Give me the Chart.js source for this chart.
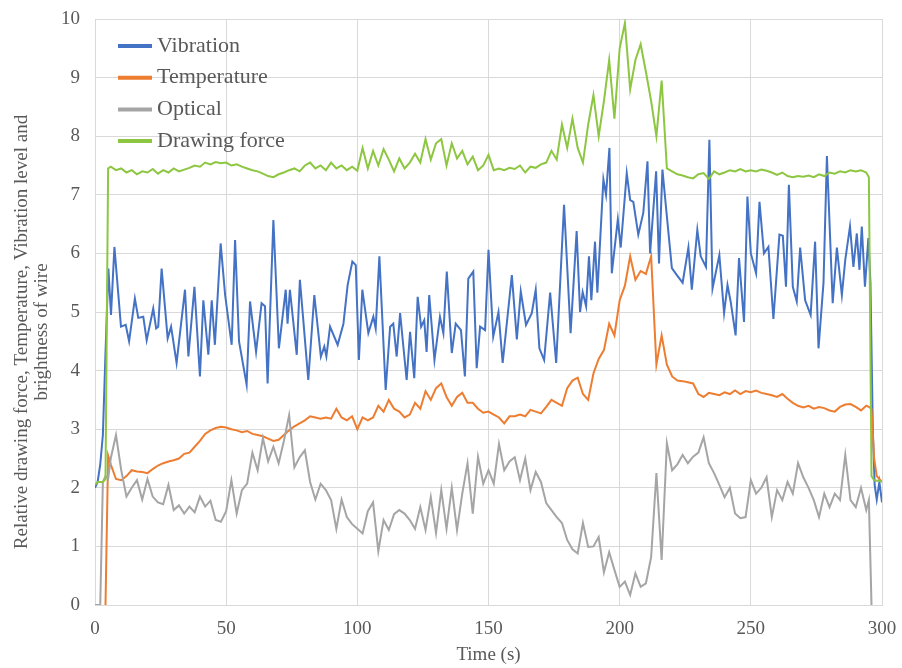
<!DOCTYPE html>
<html>
<head>
<meta charset="utf-8">
<script src="https://cdn.jsdelivr.net/npm/chart.js@4.4.1/dist/chart.umd.min.js"></script>
<style>
  html, body { margin: 0; padding: 0; background: #fff; }
  #wrap { width: 902px; height: 668px; }
</style>
</head>
<body>
<div id="wrap"><canvas id="chart" width="902" height="668"></canvas></div>
<script>
// time axis shared by temperature, optical and drawing force (s)
var time = [
  0, 1, 2, 3, 4, 5, 6,
  8, 10, 12, 14, 16, 18, 20, 22, 24, 26,
  28, 30, 32, 34, 36, 38, 40, 42, 44, 46,
  48, 50, 52, 54, 56, 58, 60, 62, 64, 66,
  68, 70, 72, 74, 76, 78, 80, 82, 84, 86,
  88, 90, 92, 94, 96, 98, 100, 102, 104, 106,
  108, 110, 112, 114, 116, 118, 120, 122, 124, 126,
  128, 130, 132, 134, 136, 138, 140, 142, 144, 146,
  148, 150, 152, 154, 156, 158, 160, 162, 164, 166,
  168, 170, 172, 174, 176, 178, 180, 182, 184, 186,
  188, 190, 192, 194, 196, 198, 200, 202, 204, 206,
  208, 210, 212, 214, 216, 218, 220, 222, 224, 226,
  228, 230, 232, 234, 236, 238, 240, 242, 244, 246,
  248, 250, 252, 254, 256, 258, 260, 262, 264, 266,
  268, 270, 272, 274, 276, 278, 280, 282, 284, 286,
  288, 290, 292, 294,
  295, 296, 297, 298, 299, 300
];

var drawingForce = [
  2.05, 2.1, 2.1, 2.1, 2.15, 7.45, 7.48,
  7.42, 7.45, 7.38, 7.42, 7.35, 7.4, 7.38, 7.44, 7.36, 7.42,
  7.38, 7.45, 7.4, 7.43, 7.46, 7.5, 7.48, 7.55, 7.52, 7.56,
  7.54, 7.55, 7.5, 7.52, 7.48, 7.45, 7.42, 7.4, 7.36, 7.32,
  7.3, 7.35, 7.38, 7.42, 7.45, 7.4, 7.5, 7.55, 7.45, 7.5,
  7.42, 7.55, 7.45, 7.5, 7.42, 7.48, 7.41, 7.8, 7.45, 7.75,
  7.5, 7.78, 7.6, 7.4, 7.62, 7.45, 7.55, 7.7, 7.55, 7.95,
  7.6, 7.88, 7.95, 7.5, 7.88, 7.62, 7.75, 7.52, 7.65, 7.42,
  7.5, 7.68, 7.42, 7.45, 7.42, 7.46, 7.44, 7.5, 7.38, 7.48,
  7.46, 7.52, 7.55, 7.75, 7.6, 8.2, 7.8, 8.3, 7.8, 7.55,
  8.2, 8.7, 8.0, 8.6, 9.3, 8.3, 9.5, 9.93, 8.8, 9.3,
  9.57, 9.1, 8.6, 8.0, 8.95, 7.45, 7.4, 7.35, 7.33, 7.3,
  7.28, 7.35, 7.37, 7.27, 7.4, 7.35, 7.38, 7.42, 7.4, 7.44,
  7.4, 7.42, 7.4, 7.43, 7.41, 7.38, 7.34, 7.38, 7.32, 7.3,
  7.32, 7.31, 7.33, 7.3, 7.35, 7.32, 7.38, 7.36, 7.4, 7.38,
  7.42, 7.4, 7.42, 7.38,
  7.3, 2.2, 2.13, 2.12, 2.12, 2.1
];

var temperature = [
  null, null, null, null, 0, 2.55, 2.4,
  2.15, 2.13, 2.2, 2.3, 2.28, 2.27, 2.25, 2.32, 2.38, 2.42,
  2.45, 2.47, 2.5, 2.58, 2.6, 2.7, 2.8, 2.92, 2.98, 3.02,
  3.04, 3.03, 3.0, 2.98, 2.95, 2.97, 2.92, 2.9, 2.88, 2.84,
  2.8, 2.82, 2.9, 2.98, 3.05, 3.1, 3.15, 3.22, 3.2, 3.18,
  3.2, 3.18, 3.35, 3.2, 3.15, 3.22, 3.0, 3.2, 3.15, 3.2,
  3.4, 3.3, 3.5, 3.35, 3.3, 3.2, 3.25, 3.45, 3.35, 3.65,
  3.5, 3.7, 3.78, 3.55, 3.4, 3.55, 3.62, 3.45, 3.45, 3.35,
  3.28, 3.3, 3.25, 3.2, 3.1, 3.22, 3.22, 3.25, 3.22, 3.33,
  3.3, 3.27, 3.38, 3.5, 3.45, 3.4, 3.7, 3.83, 3.88, 3.6,
  3.5, 3.95, 4.2, 4.35, 4.8, 4.6, 5.2, 5.45, 5.95, 5.55,
  5.7, 5.65, 5.95, 4.1, 4.6, 4.1, 3.9, 3.83, 3.82, 3.8,
  3.78, 3.6, 3.55, 3.62, 3.6, 3.58, 3.63, 3.6, 3.66, 3.6,
  3.65, 3.63, 3.66, 3.62, 3.6, 3.58, 3.55, 3.6, 3.52, 3.45,
  3.4, 3.37, 3.4, 3.35, 3.38, 3.36, 3.32, 3.3, 3.38, 3.42,
  3.43, 3.38, 3.32, 3.4,
  3.38, 3.35, 2.5, 2.2, 2.15, 2.1
];

var optical = [
  0, 0, 0, 2.1, 2.2, 2.15, 2.5,
  2.9, 2.3, 1.85, 2.0, 2.13, 1.8, 2.15, 1.85, 1.75, 1.72,
  2.05, 1.62, 1.7, 1.56, 1.68, 1.58, 1.85, 1.68, 1.78, 1.45,
  1.42, 1.6, 2.13, 1.56, 1.96, 2.07, 2.6, 2.3, 2.85, 2.45,
  2.7, 2.42, 2.8, 3.24, 2.35, 2.52, 2.64, 2.1, 1.8, 2.07,
  1.96, 1.79, 1.3, 1.8, 1.5, 1.38, 1.3, 1.22, 1.6, 1.75,
  0.92, 1.45, 1.28, 1.55, 1.62, 1.56, 1.45, 1.3, 1.67, 1.28,
  1.84, 1.23, 1.96, 1.3, 2.0, 1.28, 1.9, 2.42, 1.56, 2.53,
  2.07, 2.3, 2.07, 2.75, 2.3, 2.45, 2.52, 2.13, 2.5, 1.96,
  2.27, 2.1, 1.74, 1.62, 1.5, 1.4, 1.11, 0.95, 0.88, 1.4,
  0.99, 1.0, 1.16, 0.56, 0.9, 0.6, 0.31, 0.4, 0.17, 0.54,
  0.31, 0.37, 0.82, 2.25, 0.77, 2.76, 2.3, 2.4, 2.56, 2.42,
  2.53, 2.6, 2.86, 2.42, 2.25, 2.05, 1.84, 2.0, 1.56, 1.48,
  1.5, 2.13, 1.9, 2.0, 2.18, 1.5, 1.96, 1.79, 2.1, 1.9,
  2.42, 2.18, 2.0, 1.79, 1.5, 1.9, 1.67, 1.9, 1.79, 2.56,
  1.79, 1.67, 2.0, 1.62,
  1.79, 0, null, null, null, null
];

// vibration has its own (denser, irregular) sampling
var vibTime = [
  0, 1, 2, 3, 4, 5.1, 6.1, 7.4, 9.9, 11.7,
  13, 15.2, 16.5, 18.4, 19.7, 22.2, 23.3, 24.1, 25.4, 27.7,
  29, 31.1, 34.3, 35.6, 37.9, 40, 41.3, 43.2, 44.5, 45.7,
  47.9, 49.6, 52.1, 53.4, 54.9, 57.8, 59.1, 61.4, 63.5, 64.8,
  65.8, 68, 70.1, 72.7, 73.4, 74.3, 76.9, 78.1, 79.4, 81.3,
  83.6, 86.1, 87.4, 88.2, 89.6, 92.5, 94.7, 96.3, 98.1, 99.4,
  100.6, 101.9, 104.2, 106.1, 107, 108.4, 110.8, 112.5, 113.7, 115,
  116.3, 118.8, 120.1, 121.7, 123, 124.3, 125.5, 126.4, 127.4, 129.4,
  131.5, 132.8, 134.1, 136, 137.5, 139.5, 141, 142.3, 144.2, 145.5,
  146.8, 148.7, 150, 151.8, 153.8, 155.4, 158.9, 160.8, 162.3, 164.3,
  166.5, 168, 169.4, 171.2, 173.5, 175.8, 178.8, 181.3, 183.6, 184.9,
  185.9, 187.2, 188.3, 189.2, 190.6, 191.5, 193.8, 194.8, 196.1, 197,
  199.3, 200.4, 202.7, 204, 205.2, 207.1, 209, 210.6, 211.6, 213.9,
  215, 216.3, 218, 219.9, 221.8, 224, 226.2, 227.5, 229.6, 230.9,
  232.9, 234.2, 235.4, 238, 239.8, 241.1, 242.3, 244.2, 245.5, 247.4,
  248.7, 250, 252, 253.3, 255, 256.7, 258.6, 260.9, 262.2, 263.4,
  264.5, 266, 267.5, 268.8, 270.7, 272.8, 274.5, 275.8, 277.7, 279,
  281.2, 282.8, 284.7, 286, 287.8, 289.1, 290.4, 291.4, 292.3, 293.5,
  294.8, 295.6, 296.5, 297.2, 298, 299, 300
];

var vibration = [
  2.0, 2.1, 2.4, 2.9, 4.3, 5.74, 4.95, 6.11, 4.75, 4.78,
  4.5, 5.23, 4.9, 4.92, 4.52, 5.06, 4.72, 4.75, 5.74, 4.55,
  4.75, 4.13, 5.38, 4.24, 5.43, 3.9, 5.2, 4.27, 5.2, 4.44,
  6.17, 5.29, 4.44, 6.23, 4.5, 3.76, 5.18, 4.32, 5.15, 5.1,
  3.78, 6.57, 4.38, 5.38, 4.8, 5.38, 4.27, 5.55, 4.86, 3.84,
  5.29, 4.24, 4.41, 4.24, 4.75, 4.44, 4.8, 5.46, 5.86, 5.8,
  4.18, 5.38, 4.64, 4.92, 4.72, 5.95, 3.67, 4.75, 4.8, 4.24,
  4.98, 3.84, 4.66, 3.87, 5.26, 4.75, 4.86, 4.32, 5.29, 4.18,
  4.92, 4.64, 5.69, 4.3, 4.8, 4.69, 3.9, 5.57, 5.69, 4.04,
  4.75, 4.69, 6.06, 4.58, 5.0, 4.13, 5.63, 4.53, 5.35, 4.78,
  4.98, 5.38, 4.38, 4.18, 5.33, 4.13, 6.83, 4.64, 6.38, 5.0,
  5.34, 5.1, 5.95, 5.2, 6.2, 5.33, 7.26, 7.0, 7.8, 5.66,
  6.58, 6.1, 7.37, 6.91, 6.88, 6.32, 6.69, 7.57, 6.0, 7.4,
  5.83, 7.43, 6.63, 5.75, 5.63, 5.5, 6.1, 5.38, 6.4, 5.95,
  5.77, 7.94, 5.4, 5.97, 4.98, 5.46, 5.18, 4.6, 5.92, 4.83,
  6.97, 6.0, 5.66, 6.88, 6.0, 6.11, 4.88, 6.32, 6.3, 5.43,
  7.17, 5.43, 5.18, 6.1, 5.2, 4.95, 6.2, 4.38, 5.5, 7.66,
  5.15, 6.1, 5.29, 5.89, 6.46, 5.77, 6.34, 5.72, 6.46, 5.43,
  6.26, 5.5, 3.0, 2.05, 1.8, 2.1, 1.75
];

var seriesNames = ['Vibration', 'Temperature', 'Optical', 'Drawing force'];
var seriesColors = ['#4472c4', '#ed7d31', '#a5a5a5', '#8dc641'];
var xTicks = [0, 50, 100, 150, 200, 250, 300];
var yTitle = ['Relative drawing force, Temperature, Vibration level and', 'brightness of wire'];
var xTitle = 'Time (s)';

var serif = "'Liberation Serif', 'Times New Roman', serif";
var textColor = '#595959';
var gridColor = '#d9d9d9';

function toPoints(xs, ys) {
  return xs.map(function (x, i) { return { x: x, y: ys[i] }; });
}

function lineSet(i, xs, ys, order) {
  return {
    label: seriesNames[i],
    data: toPoints(xs, ys),
    borderColor: seriesColors[i],
    backgroundColor: seriesColors[i],
    borderWidth: 2,
    pointRadius: 0,
    tension: 0,
    spanGaps: false,
    order: order
  };
}

// legend drawn inside the plot, top left, with thick line swatches
var insideLegend = {
  id: 'insideLegend',
  afterDraw: function (chart) {
    var ctx = chart.ctx;
    var area = chart.chartArea;
    ctx.save();
    ctx.font = '22px ' + serif;
    ctx.textBaseline = 'middle';
    ctx.textAlign = 'left';
    seriesNames.forEach(function (name, i) {
      var y = area.top + 27 + i * 31.7;
      ctx.strokeStyle = seriesColors[i];
      ctx.lineWidth = 4;
      ctx.beginPath();
      ctx.moveTo(area.left + 23, y);
      ctx.lineTo(area.left + 57, y);
      ctx.stroke();
      ctx.fillStyle = textColor;
      ctx.fillText(name, area.left + 62, y);
    });
    ctx.restore();
  }
};

// two-line rotated y title, placed like the original
var yTitlePlugin = {
  id: 'yTitlePlugin',
  afterDraw: function (chart) {
    var ctx = chart.ctx;
    ctx.save();
    ctx.translate(22, 332);
    ctx.rotate(-Math.PI / 2);
    ctx.font = '19px ' + serif;
    ctx.fillStyle = textColor;
    ctx.textAlign = 'center';
    ctx.textBaseline = 'middle';
    ctx.fillText(yTitle[0], 0, 0);
    ctx.fillText(yTitle[1], 0, 20);
    ctx.restore();
  }
};

var ctx = document.getElementById('chart').getContext('2d');
var chart = new Chart(ctx, {
  type: 'line',
  data: {
    datasets: [
      lineSet(0, vibTime, vibration, 4),
      lineSet(1, time, temperature, 3),
      lineSet(2, time, optical, 2),
      lineSet(3, time, drawingForce, 1)
    ]
  },
  options: {
    responsive: false,
    animation: false,
    layout: { padding: { left: 0, right: 20, top: 19, bottom: 0 } },
    plugins: {
      legend: { display: false },
      tooltip: { enabled: false }
    },
    scales: {
      x: {
        type: 'linear',
        min: 0,
        max: 300,
        afterBuildTicks: function (scale) {
          scale.ticks = xTicks.map(function (v) { return { value: v }; });
        },
        ticks: {
          color: textColor,
          font: { family: serif, size: 19 },
          padding: 13,
          maxRotation: 0
        },
        grid: { color: gridColor, drawTicks: false },
        border: { color: gridColor },
        title: {
          display: true,
          text: xTitle,
          color: textColor,
          font: { family: serif, size: 19 },
          padding: { top: 0, bottom: 2 }
        },
        afterFit: function (scale) {
          scale.height = 63;
          scale.paddingLeft = 0;
          scale.paddingRight = 0;
        }
      },
      y: {
        min: 0,
        max: 10,
        ticks: {
          stepSize: 1,
          color: textColor,
          font: { family: serif, size: 19 },
          padding: 15
        },
        grid: { color: gridColor, drawTicks: false },
        border: { color: gridColor },
        afterFit: function (scale) {
          scale.width = 95;
          scale.paddingTop = 0;
          scale.paddingBottom = 0;
        }
      }
    }
  },
  plugins: [insideLegend, yTitlePlugin]
});
</script>
</body>
</html>
